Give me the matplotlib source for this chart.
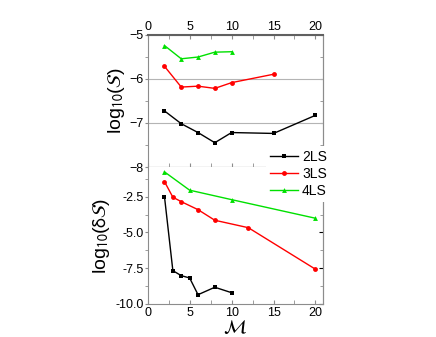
import matplotlib
matplotlib.use('Agg')
import matplotlib.pyplot as plt
from matplotlib.lines import Line2D
from matplotlib.ticker import MultipleLocator

plt.rcParams['font.family'] = ['Liberation Sans', 'DejaVu Sans']
plt.rcParams['mathtext.fontset'] = 'stixsans'

# top panel: log10(S) vs M
m_2ls_S = [2, 4, 6, 8, 10, 15, 20]
S_2ls = [-6.73, -7.02, -7.22, -7.45, -7.22, -7.24, -6.83]
m_3ls_S = [2, 4, 6, 8, 10, 15]
S_3ls = [-5.72, -6.19, -6.17, -6.22, -6.09, -5.90]
m_4ls_S = [2, 4, 6, 8, 10]
S_4ls = [-5.25, -5.55, -5.51, -5.40, -5.39]

# bottom panel: log10(dS) vs M
m_2ls_dS = [2, 3, 4, 5, 6, 8, 10]
dS_2ls = [-2.5, -7.67, -8.02, -8.18, -9.35, -8.83, -9.21]
m_3ls_dS = [2, 3, 4, 6, 8, 12, 20]
dS_3ls = [-1.45, -2.54, -2.85, -3.41, -4.15, -4.67, -7.57]
m_4ls_dS = [2, 5, 10, 20]
dS_4ls = [-0.77, -2.05, -2.71, -4.01]

labels = ['2LS', '3LS', '4LS']
colors = ['black', '#ff0000', '#00e000']
markers = ['s', 'o', '^']

W, H = 436, 337
fig = plt.figure(figsize=(W / 100, H / 100), dpi=100)
x0, x1 = 147.7, 323
ax1 = fig.add_axes([x0 / W, 1 - 167 / H, (x1 - x0) / W, (167 - 34.5) / H])
ax2 = fig.add_axes([x0 / W, 1 - 304 / H, (x1 - x0) / W, (304 - 167) / H])

spine_col = '#8c8c8c'
kw = dict(lw=1.0, ms=3.5, mew=0)

# top panel
for xs, ys, c, mk in zip([m_2ls_S, m_3ls_S, m_4ls_S], [S_2ls, S_3ls, S_4ls], colors, markers):
    ax1.plot(xs, ys, color=c, marker=mk, **kw)
ax1.set_xlim(0, 20.9)
ax1.set_ylim(-8, -5)
ax1.xaxis.tick_top()
ax1.xaxis.set_major_locator(MultipleLocator(5))
ax1.xaxis.set_minor_locator(MultipleLocator(2.5))
ax1.yaxis.set_major_locator(MultipleLocator(1))
ax1.yaxis.set_minor_locator(MultipleLocator(0.5))
ax1.tick_params(axis='x', which='both', top=True, bottom=True, direction='in',
                labelsize=9, color=spine_col, length=3, pad=1)
ax1.tick_params(axis='y', which='both', direction='out', labelsize=9,
                color=spine_col, length=2, pad=1)
ax1.yaxis.grid(True, color='#b4b4b4', lw=0.8)
for s in ['left', 'right', 'bottom']:
    ax1.spines[s].set_color(spine_col)
ax1.spines['top'].set_color('#606060')
ax1.spines['top'].set_linewidth(1.5)
ax1.set_ylabel(r'log$_{10}$($\mathcal{S}$)', fontsize=14, labelpad=2)
sec1 = ax1.secondary_yaxis('right')
sec1.yaxis.set_major_locator(MultipleLocator(1))
sec1.yaxis.set_minor_locator(MultipleLocator(0.5))
sec1.tick_params(which='both', direction='in', labelright=False, color=spine_col, length=2)
sec1.spines['right'].set_color(spine_col)

# bottom panel
lines = []
for xs, ys, c, mk, lab in zip([m_2ls_dS, m_3ls_dS, m_4ls_dS], [dS_2ls, dS_3ls, dS_4ls],
                              colors, markers, labels):
    ln, = ax2.plot(xs, ys, color=c, marker=mk, label=lab, **kw)
    lines.append(ln)
ax2.set_xlim(0, 20.9)
ax2.set_ylim(-10, -0.43)
ax2.xaxis.set_major_locator(MultipleLocator(5))
ax2.xaxis.set_minor_locator(MultipleLocator(2.5))
ax2.yaxis.set_major_locator(MultipleLocator(2.5))
ax2.yaxis.set_minor_locator(MultipleLocator(1.25))
ax2.yaxis.set_major_formatter(matplotlib.ticker.FormatStrFormatter('%.1f'))
ax2.tick_params(axis='x', which='both', direction='in', labelsize=9,
                color=spine_col, length=3, pad=2)
ax2.tick_params(axis='y', which='both', direction='out', labelsize=9,
                color=spine_col, length=2, pad=1)
for s in ['left', 'right', 'bottom']:
    ax2.spines[s].set_color(spine_col)
ax2.spines['top'].set_visible(False)
ax2.set_ylabel(r'log$_{10}$($\mathrm{\delta}\mathcal{S}$)', fontsize=14, labelpad=2)
ax2.set_xlabel(r'$\mathcal{M}$', fontsize=14, labelpad=0)
sec2 = ax2.secondary_yaxis('right')
sec2.yaxis.set_major_locator(MultipleLocator(2.5))
sec2.yaxis.set_minor_locator(MultipleLocator(1.25))
sec2.tick_params(which='major', direction='in', labelright=False, color='black', length=3)
sec2.tick_params(which='minor', direction='in', labelright=False, color=spine_col, length=2)
sec2.spines['right'].set_color(spine_col)

leg = fig.legend(lines, labels, loc='upper left', bbox_to_anchor=(266 / W, 1 - 146 / H),
                 frameon=True, fancybox=False, facecolor='white', edgecolor='none',
                 framealpha=1, fontsize=10, handlelength=2.0, handletextpad=0.3,
                 labelspacing=0.2, borderpad=0.3, borderaxespad=0)
fig.add_artist(Line2D([270 / W, 323 / W], [1 - 200 / H] * 2, color='#909090', lw=1))

fig.savefig('out.png', dpi=100)
